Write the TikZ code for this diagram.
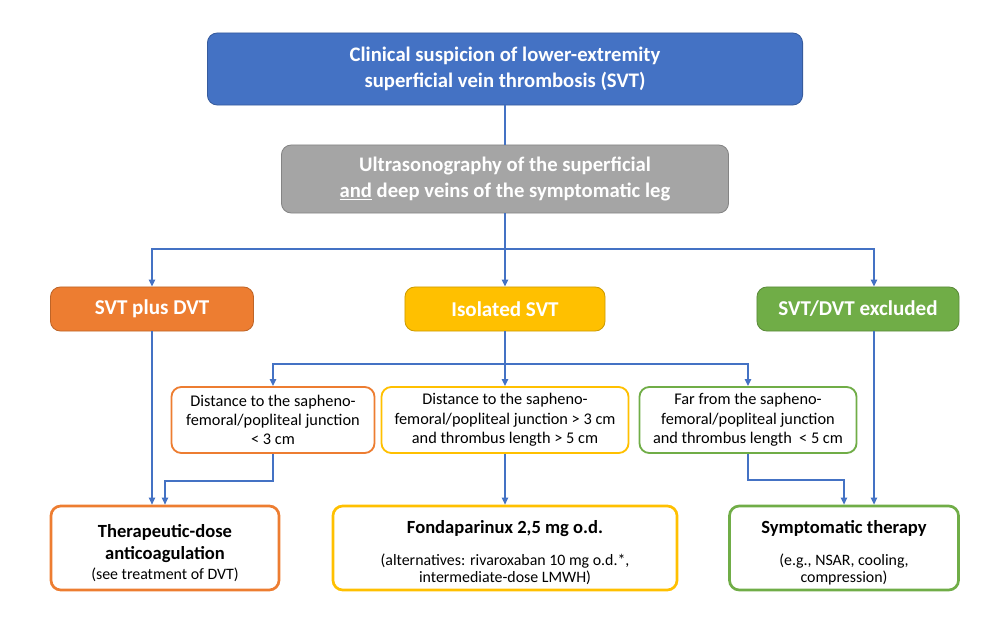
\documentclass[tikz,border=0pt]{standalone}
\usepackage{fontspec}
\setmainfont{Carlito}
\usetikzlibrary{arrows.meta}
\definecolor{svtblue}{HTML}{4472C4}
\definecolor{svtgray}{HTML}{A5A5A5}
\definecolor{svtorange}{HTML}{ED7D31}
\definecolor{svtyellow}{HTML}{FFC000}
\definecolor{svtgreen}{HTML}{70AD47}
\newcommand{\restitle}[1]{{\fontsize{13.2}{15.6}\selectfont\bfseries #1}}
\newcommand{\lift}{\rule{0pt}{16pt}}

\begin{document}
\begin{tikzpicture}[x=0.025cm, y=-0.025cm,
                    box/.style={rounded corners=7pt, align=center, inner sep=2pt},
                    head/.style={box, fill=#1, draw=#1!80!black, line width=0.6pt, text=white,
                                 font=\fontsize{14.7}{18}\selectfont\bfseries},
                    cond/.style={box, draw=#1, fill=white, line width=1.3pt,
                                 minimum height=1.65cm, font=\fontsize{11.6}{13.7}\selectfont},
                    result/.style={box, draw=#1, fill=white, line width=1.9pt,
                                   minimum height=2.1cm, font=\fontsize{11.3}{11.8}\selectfont},
                    wire/.style={draw=svtblue, line width=1pt},
                    link/.style={wire, -{Triangle[length=5pt,width=4.5pt]}}]
  \useasboundingbox (0,0) rectangle (1004,622);
  \node[head=svtblue, minimum width=14.875cm, minimum height=1.8cm] (suspicion) at (505,69)
    {Clinical suspicion of lower-extremity\\superficial vein thrombosis (SVT)};
  \node[head=svtgray, minimum width=11.175cm, minimum height=1.7cm] (ultrasound) at (505,179)
    {Ultrasonography of the superficial\\\underline{and} deep veins of the symptomatic leg};

  \node[head=svtorange, minimum width=5.075cm, minimum height=1.1cm, font=\fontsize{15}{18}\selectfont\bfseries] (plusdvt) at (152,309) {SVT plus DVT};
  \node[head=svtyellow, minimum width=5cm, minimum height=1.1cm, font=\fontsize{15}{18}\selectfont\bfseries] (isolated) at (505,309) {Isolated SVT};
  \node[head=svtgreen, minimum width=5.05cm, minimum height=1.1cm, font=\fontsize{15}{18}\selectfont\bfseries] (excluded) at (858,309) {SVT/DVT excluded};

  \node[cond=svtorange, minimum width=5.075cm] (nearjunction) at (273,420)
    {Distance to the sapheno-\\femoral/popliteal junction\\< 3 cm};
  \node[cond=svtyellow, minimum width=6.175cm] (distal) at (505,420)
    {Distance to the sapheno-\\femoral/popliteal junction > 3 cm\\and thrombus length > 5 cm};
  \node[cond=svtgreen, minimum width=5.425cm] (farjunction) at (748,420)
    {Far from the sapheno-\\femoral/popliteal junction\\and thrombus length \ < 5 cm};

  \node[result=svtorange, minimum width=5.7cm] (anticoag) at (165,548)
    {\lift\restitle{Therapeutic-dose}\\[3.8pt]\restitle{anticoagulation}\\[2.4pt](see treatment of DVT)};
  \node[result=svtyellow, minimum width=8.6cm] (fonda) at (505,548)
    {\lift\restitle{Fondaparinux 2,5 mg o.d.}\\[11pt]
     (alternatives: rivaroxaban 10 mg o.d.*,\\intermediate-dose LMWH)};
  \node[result=svtgreen, minimum width=5.725cm] (symptomatic) at (844,548)
    {\lift\restitle{Symptomatic therapy}\\[11pt]
     (e.g., NSAR, cooling,\\compression)};

  \coordinate (split) at (505,249);
  \coordinate (subsplit) at (505,364);
  \draw[wire] (suspicion.south) -- (ultrasound.north);
  \draw[wire] (ultrasound.south) -- (split);
  \draw[link] (split) -| (plusdvt.north);
  \draw[link] (split) -- (isolated.north);
  \draw[link] (split) -| ([xshift=0.4cm]excluded.north);
  \draw[link] (plusdvt.south) -- (plusdvt.south |- anticoag.north);
  \draw[link] ([xshift=0.4cm]excluded.south) -- ([xshift=0.4cm]excluded.south |- symptomatic.north);
  \draw[wire] (isolated.south) -- (subsplit);
  \draw[link] (subsplit) -| (nearjunction.north);
  \draw[link] (subsplit) -- (distal.north);
  \draw[link] (subsplit) -| (farjunction.north);
  \draw[link] (nearjunction.south) -- ++(0,27) -| (anticoag.north);
  \draw[link] (distal.south) -- (fonda.north);
  \draw[link] (farjunction.south) -- ++(0,26) -| (symptomatic.north);
\end{tikzpicture}
\end{document}
